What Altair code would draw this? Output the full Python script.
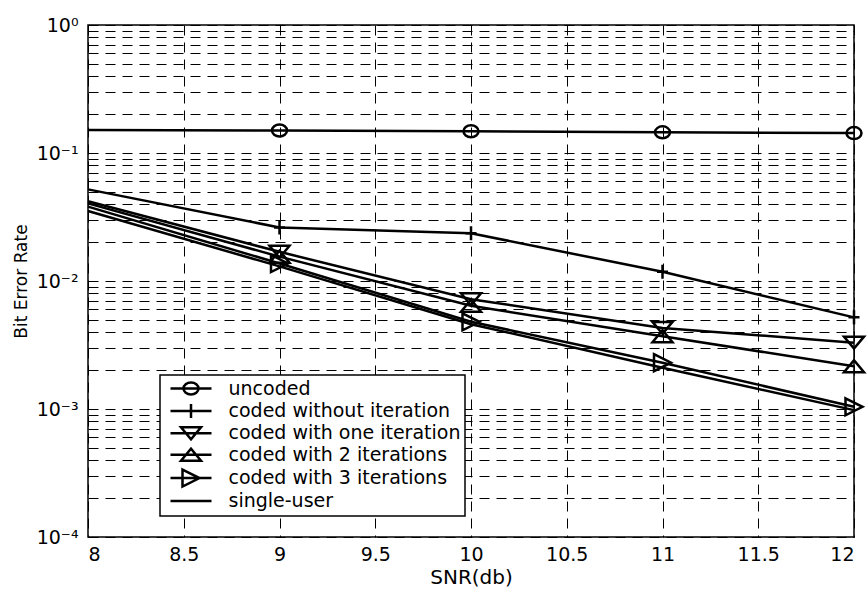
import altair as alt
import pandas as pd

# ---- data ----
snr = [8, 9, 10, 11, 12]
uncoded = [0.151, 0.150, 0.148, 0.145, 0.143]
no_iter = [0.052, 0.0262, 0.0236, 0.0118, 0.0052]
one_iter = [0.042, 0.0169, 0.0072, 0.0043, 0.0033]
two_iter = [0.0404, 0.0155, 0.0064, 0.0037, 0.00216]
three_iter = [0.0381, 0.0137, 0.0048, 0.0023, 0.00104]
single_user = [0.0352, 0.0130, 0.0046, 0.0021, 0.00098]

series_names = [
    "uncoded",
    "coded without iteration",
    "coded with one iteration",
    "coded with 2 iterations",
    "coded with 3 iterations",
    "single-user",
]
series_values = [uncoded, no_iter, one_iter, two_iter, three_iter, single_user]

x_ticks = [8, 8.5, 9, 9.5, 10, 10.5, 11, 11.5, 12]
y_ticks = [m * 10.0 ** e for e in range(-4, 0) for m in range(1, 10)] + [1.0]

rows = []
for name, vals in zip(series_names, series_values):
    for s, v in zip(snr, vals):
        rows.append({"snr": s, "ber": v, "series": name})
df = pd.DataFrame(rows)

FONT = "DejaVu Sans"


# ---- marker glyphs (custom symbol paths) ----
def f(v):
    return f"{v:.3f}"


def ellipse(rx, ry, r):
    a, b = rx / r, ry / r
    return f"M{f(-a)},0A{f(a)},{f(b)} 0 1,0 {f(a)},0A{f(a)},{f(b)} 0 1,0 {f(-a)},0Z"


def plus(hw, hh, r):
    return f"M{f(-hw/r)},0H{f(hw/r)}M0,{f(-hh/r)}V{f(hh/r)}"


def tri_down(hw, hh, r):
    return f"M{f(-hw/r)},{f(-hh/r)}L{f(hw/r)},{f(-hh/r)}L0,{f(hh/r)}Z"


def tri_up(hw, hh, r):
    return f"M{f(-hw/r)},{f(hh/r)}L{f(hw/r)},{f(hh/r)}L0,{f(-hh/r)}Z"


def tri_right(hw, hh, r):
    return f"M{f(-hw/r)},{f(-hh/r)}L{f(hw/r)},0L{f(-hw/r)},{f(hh/r)}Z"


def glyphs(r):
    return [
        ellipse(7.5, 6.0, r),
        plus(5.5, 7.0, r),
        tri_down(10.0, 6.0, r),
        tri_up(10.0, 6.0, r),
        tri_right(8.5, 8.5, r),
    ]


R_PLOT = 10.0
R_LEG = 7.0
marker_paths = glyphs(R_PLOT)
seg = f"M{f(-20.5/R_LEG)},0H{f(20.5/R_LEG)}"
legend_paths = [seg + g for g in glyphs(R_LEG)] + [seg]

sup = {0: "⁰", -1: "⁻¹", -2: "⁻²", -3: "⁻³", -4: "⁻⁴"}
e_expr = "round(log(datum.value)/LN10)"
lab = "''"
for k, s in sup.items():
    lab = f"({e_expr} == {k} ? '10{s}' : {lab})"
y_label_expr = f"abs(log(datum.value)/LN10 - {e_expr}) > 0.001 ? '' : {lab}"

x_enc = alt.X(
    "snr:Q",
    scale=alt.Scale(domain=[8, 12], nice=False, zero=False),
    axis=alt.Axis(values=x_ticks, format="~g", title="SNR(db)", labelPadding=8,
                  titlePadding=3, titleFontSize=20),
)
y_enc = alt.Y(
    "ber:Q",
    scale=alt.Scale(type="log", domain=[1e-4, 1], nice=False),
    axis=alt.Axis(values=y_ticks, labelExpr=y_label_expr, title="Bit Error Rate",
                  labelPadding=10, titlePadding=6, titleFontSize=17),
)

base = alt.Chart(df).encode(x=x_enc, y=y_enc)

lines = base.mark_line(color="black", strokeWidth=2.5).encode(
    detail="series:N", order="snr:Q"
)

points = base.transform_filter(
    "datum.snr >= 9 && datum.series != 'single-user'"
).mark_point(filled=False, color="black", strokeWidth=2.5, size=R_PLOT * R_PLOT * 4, opacity=1).encode(
    shape=alt.Shape("series:N", scale=alt.Scale(domain=series_names[:5], range=marker_paths), legend=None)
)

legend_layer = base.transform_filter("datum.snr < 0").mark_point(
    filled=False, color="black", strokeWidth=2.5, size=R_LEG * R_LEG * 4, opacity=1
).encode(
    shape=alt.Shape(
        "series:N",
        scale=alt.Scale(domain=series_names, range=legend_paths),
        legend=alt.Legend(
            title=None,
            orient="none",
            legendX=72,
            legendY=350,
            padding=4,
            strokeColor="black",
            fillColor="white",
            symbolSize=R_LEG * R_LEG * 4,
            symbolOffset=17.5,
            labelOffset=28,
            labelFont=FONT,
            labelFontSize=19,
            labelColor="black",
            labelLimit=500,
            rowPadding=-1.6,
            symbolStrokeColor="black",
            symbolStrokeWidth=2.5,
            symbolFillColor="transparent",
            symbolOpacity=1,
        ),
    )
)

chart = (
    alt.layer(lines, points, legend_layer)
    .resolve_scale(shape="independent")
    .properties(
        width=766,
        height=512,
        autosize=alt.AutoSizeParams(type="none"),
        padding={"left": 88, "top": 25, "right": 13, "bottom": 55},
        background="white",
    )
    .configure_view(stroke="black", strokeWidth=1.5)
    .configure_legend(strokeWidth=1.5, cornerRadius=0)
    .configure_axis(
        domain=False,
        ticks=False,
        grid=True,
        gridColor="black",
        gridDash=[10, 7],
        gridWidth=1,
        gridOpacity=1,
        labelFont=FONT,
        labelFontSize=19,
        labelColor="black",
        titleFont=FONT,
        titleFontWeight="normal",
        titleColor="black",
    )
)

chart.save("out.html", embed_options={"renderer": "svg", "actions": False})
